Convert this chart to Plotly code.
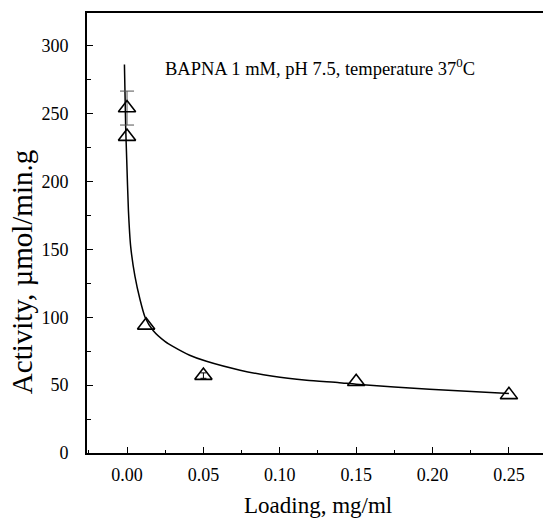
import plotly.graph_objects as go

# Measured points
loading = [0.0, 0.0, 0.0125, 0.05, 0.15, 0.25]
activity = [254, 233, 94, 57, 52.5, 42.8]
# error bars (only visible on some points)
err_big_x = [0.0]
err_big_y = [254]
err_big = [12.5]
err_small_x = [0.05]
err_small_y = [57]
err_small = [2]

# Fitted curve
curve_x = [-0.0017, -0.0009, -0.0002, 0.0009, 0.0024, 0.0052, 0.0085, 0.0118,
           0.0172, 0.025, 0.030, 0.041, 0.052, 0.074, 0.0956, 0.1176, 0.139,
           0.150, 0.198, 0.25]
curve_y = [286, 241, 216, 179, 152, 130, 113, 100, 90, 82, 78.5, 72, 67.5, 61,
           56.5, 53.6, 51.8, 50.6, 47, 43.8]

x_ticks = [0.0, 0.05, 0.10, 0.15, 0.20, 0.25]
x_ticklabels = ["0.00", "0.05", "0.10", "0.15", "0.20", "0.25"]
y_ticks = [0, 50, 100, 150, 200, 250, 300]

serif = "Liberation Serif, Times New Roman, serif"

fig = go.Figure()
fig.add_trace(go.Scatter(x=curve_x, y=curve_y, mode="lines",
                         line=dict(color="black", width=1.5, shape="spline", smoothing=0.6),
                         hoverinfo="skip", showlegend=False))
fig.add_trace(go.Scatter(x=err_big_x, y=err_big_y, mode="markers",
                         marker=dict(size=1, opacity=0),
                         error_y=dict(type="data", array=err_big, color="#555", thickness=1, width=7),
                         showlegend=False))
fig.add_trace(go.Scatter(x=err_small_x, y=err_small_y, mode="markers",
                         marker=dict(size=1, opacity=0),
                         error_y=dict(type="data", array=err_small, color="black", thickness=1, width=3),
                         showlegend=False))
fig.add_trace(go.Scatter(x=loading, y=activity, mode="markers",
                         marker=dict(symbol="triangle-up-open", size=15, color="black",
                                     line=dict(color="black", width=1.6)),
                         showlegend=False))

fig.update_layout(
    width=543, height=518,
    margin=dict(l=87, r=0, t=13, b=65),
    paper_bgcolor="white", plot_bgcolor="white",
    font=dict(family=serif, color="black", size=17),
    xaxis=dict(range=[-0.0262, 0.2723], tickvals=x_ticks, ticktext=x_ticklabels,
               ticks="inside", ticklen=6, tickwidth=1.2, tickcolor="black",
               minor=dict(dtick=0.025, tick0=0, ticks="inside", ticklen=3, tickwidth=1, tickcolor="black"),
               showline=True, linecolor="black", linewidth=2, mirror=True,
               showgrid=False, zeroline=False, ticklabelstandoff=4,
               tickfont=dict(size=18)),
    yaxis=dict(range=[0, 324], tickvals=y_ticks,
               ticks="inside", ticklen=6, tickwidth=1.2, tickcolor="black",
               minor=dict(dtick=25, tick0=0, ticks="inside", ticklen=4, tickwidth=1, tickcolor="black"),
               showline=True, linecolor="black", linewidth=2,
               showgrid=False, zeroline=False, ticklabelstandoff=13,
               tickfont=dict(size=18)),
    annotations=[
        dict(text="BAPNA 1 mM, pH 7.5, temperature 37<sup>0</sup>C", x=0.0236, y=284,
             xref="x", yref="y", xanchor="left", yanchor="middle", showarrow=False,
             font=dict(size=18.5)),
        dict(text="Loading, mg/ml", x=0.5066, y=-0.12, xref="paper", yref="paper",
             xanchor="center", yanchor="middle", showarrow=False, font=dict(size=23)),
        dict(text="Activity, \u00b5mol/min.g", x=-0.1425, y=0.411, xref="paper", yref="paper",
             xanchor="center", yanchor="middle", showarrow=False, textangle=-90,
             font=dict(size=29)),
    ],
)

fig.write_html("out.html", config={"displayModeBar": False},
               post_script="document.body.style.margin='0';document.body.style.padding='0';")
